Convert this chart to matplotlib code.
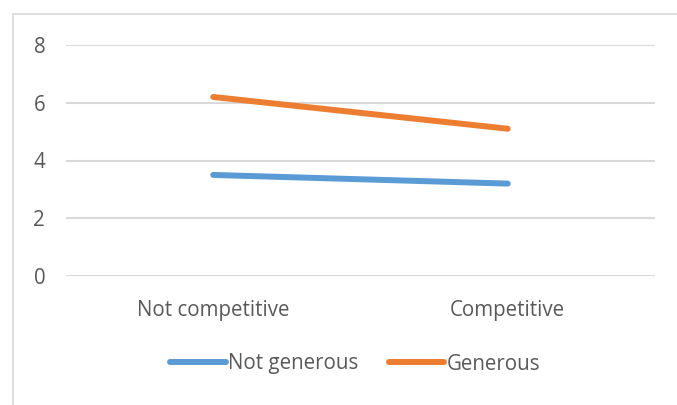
import matplotlib.pyplot as plt
from matplotlib.patches import Rectangle

categories = ["Not competitive", "Competitive"]
not_generous = [3.5, 3.2]
generous = [6.2, 5.1]
yticks = [0, 2, 4, 6, 8]

plt.rcParams['font.family'] = ['Open Sans', 'DejaVu Sans']

fig = plt.figure(figsize=(6.77, 4.05), dpi=100)
ax = fig.add_axes([66 / 677, 1 - 276 / 405, 589 / 677, 231 / 405])

x = range(len(categories))
ax.plot(x, not_generous, color='#5B9BD5', lw=4.3, solid_capstyle='round', label='Not generous')
ax.plot(x, generous, color='#ED7D31', lw=4.3, solid_capstyle='round', label='Generous')

ax.set_xlim(-0.5, len(categories) - 0.5)
ax.set_ylim(0, 8)
ax.set_yticks(yticks)
ax.set_xticks(list(x))
ax.set_xticklabels(categories)
ax.grid(axis='y', color='#D9D9D9', lw=1.5)
ax.set_axisbelow(True)
for s in ax.spines.values():
    s.set_visible(False)
ax.tick_params(length=0, colors='#595959', labelsize=14.8)
ax.tick_params(axis='x', pad=17)
ax.tick_params(axis='y', pad=15)

leg = fig.legend(loc='center', bbox_to_anchor=(355 / 677, 1 - 364 / 405), ncol=2,
                 frameon=False, fontsize=14.8, handlelength=2.7, handletextpad=0.1,
                 columnspacing=1.5)
for t in leg.get_texts():
    t.set_color('#595959')

# outer chart border
fig.patches.append(Rectangle((13 / 677, -0.01), 1.0, 1 - 14 / 405 + 0.01,
                             transform=fig.transFigure, fill=False,
                             edgecolor='#D9D9D9', lw=1.2))

fig.savefig('out.png', dpi=100)
